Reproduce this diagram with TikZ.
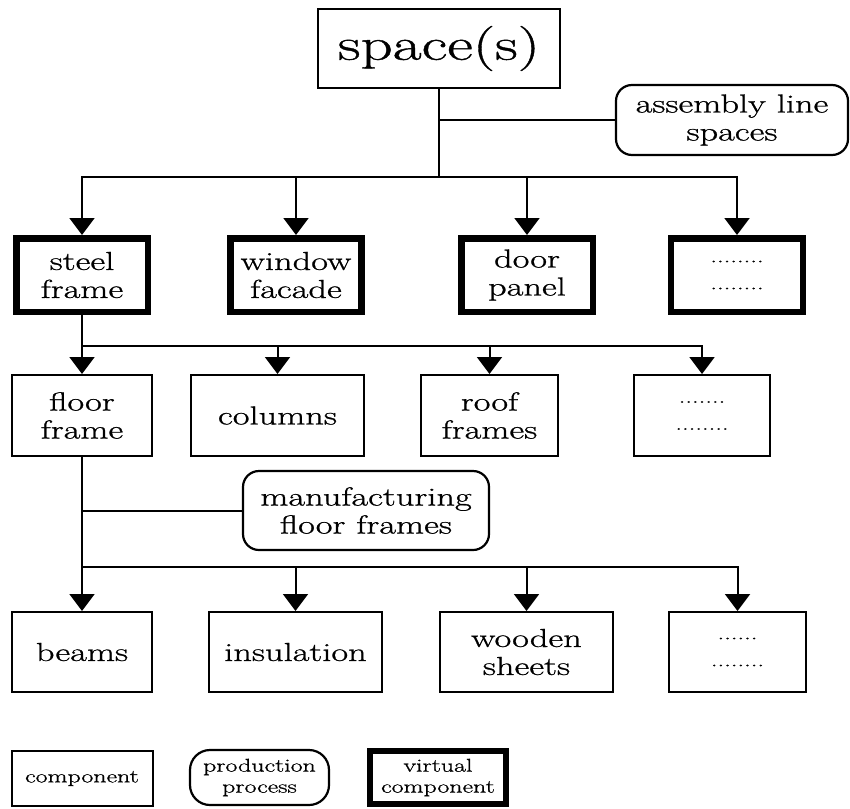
\documentclass[tikz,border=0pt]{standalone}
\usepackage{fontspec}
\setmainfont{Latin Modern Roman}[FakeStretch=1.4,FakeBold=0.9]
\usetikzlibrary{arrows.meta}
\begin{document}
\begin{tikzpicture}[x=1pt,y=-1pt,
  lab/.style={font=\fontsize{26}{28}\selectfont, align=center, inner sep=0pt},
  comp/.style={lab, draw, line width=2pt, fill=white},
  virt/.style={lab, draw, line width=6.5pt, fill=white},
  proc/.style={lab, draw, line width=2.2pt, rounded corners=16pt, fill=white},
  dotsf/.style={font=\fontsize{19}{27}\selectfont},
  legf/.style={font=\fontsize{18.5}{21}\selectfont},
  conn/.style={line width=2pt, line cap=rect},
  arr/.style={line width=2pt, -{Triangle[width=25pt,length=17pt]}},
]
\useasboundingbox (0,0) rectangle (850,808);

% top
\node[comp, line width=2.5pt, minimum width=242pt, minimum height=79pt,
      font=\fontsize{45}{50}\selectfont] (sp) at (439,48.5) {space(s)};
\node[proc, minimum width=232pt, minimum height=70pt] (al) at (732,120) {assembly line\\spaces};

% row 1 (virtual components)
\node[virt, minimum width=131.5pt, minimum height=73.5pt] (sf) at (82,275) {steel\\frame};
\node[virt, minimum width=131pt, minimum height=73.5pt] (wf) at (296,275) {window\\facade};
\node[virt, minimum width=131.5pt, minimum height=73.5pt] (dp) at (527,275) {door\\panel};
\node[virt, dotsf, minimum width=132pt, minimum height=73.5pt] (da) at (737,275) {........\\........};

% row 2
\node[comp, minimum width=140pt, minimum height=81pt] (ff) at (82,415.5) {floor\\frame};
\node[comp, minimum width=173pt, minimum height=81pt] (co) at (277.5,415.5) {columns};
\node[comp, minimum width=137pt, minimum height=81pt] (rf) at (489.5,415.5) {roof\\frames};
\node[comp, dotsf, minimum width=136pt, minimum height=81pt] (db) at (702,415.5) {.......\\........};

% manufacturing
\node[proc, minimum width=246pt, minimum height=79pt] (mf) at (366,510.5) {manufacturing\\floor frames};

% row 3
\node[comp, minimum width=140pt, minimum height=80pt] (be) at (82,652) {beams};
\node[comp, minimum width=173pt, minimum height=80pt] (in) at (295.5,652) {insulation};
\node[comp, minimum width=173pt, minimum height=80pt] (ws) at (526.5,652) {wooden\\sheets};
\node[comp, dotsf, minimum width=137pt, minimum height=80pt] (dc) at (737.5,652) {......\\........};

% legend
\node[comp, legf, minimum width=141pt, minimum height=55pt] (lc) at (82,778.5) {component};
\node[proc, legf, rounded corners=20pt, minimum width=139pt, minimum height=55pt] (lp) at (259.5,777.5) {production\\process};
\node[virt, legf, line width=6pt, minimum width=136pt, minimum height=53pt] (lv) at (438,777.5) {virtual\\component};

% connectors level 1
\coordinate (j1) at (439,177);
\draw[conn] (sp.south) -- (j1);
\draw[conn] (al.west) -- (al.west -| sp.south);
\draw[conn] (j1 -| sf) -- (j1 -| da);
\foreach \n in {sf,wf,dp,da} \draw[arr] (j1 -| \n) -- (\n.north);

% connectors level 2
\coordinate (j2) at (82,346);
\draw[conn] (sf.south) -- (j2);
\draw[conn] (j2) -- (j2 -| db);
\foreach \n in {ff,co,rf,db} \draw[arr] (j2 -| \n) -- (\n.north);

% connectors level 3
\coordinate (j3) at (82,567);
\draw[conn] (ff.south) -- (j3);
\draw[conn] (mf.west) -- (mf.west -| ff.south);
\draw[conn] (j3) -- (j3 -| dc);
\foreach \n in {be,in,ws,dc} \draw[arr] (j3 -| \n) -- (\n.north);
\end{tikzpicture}
\end{document}
